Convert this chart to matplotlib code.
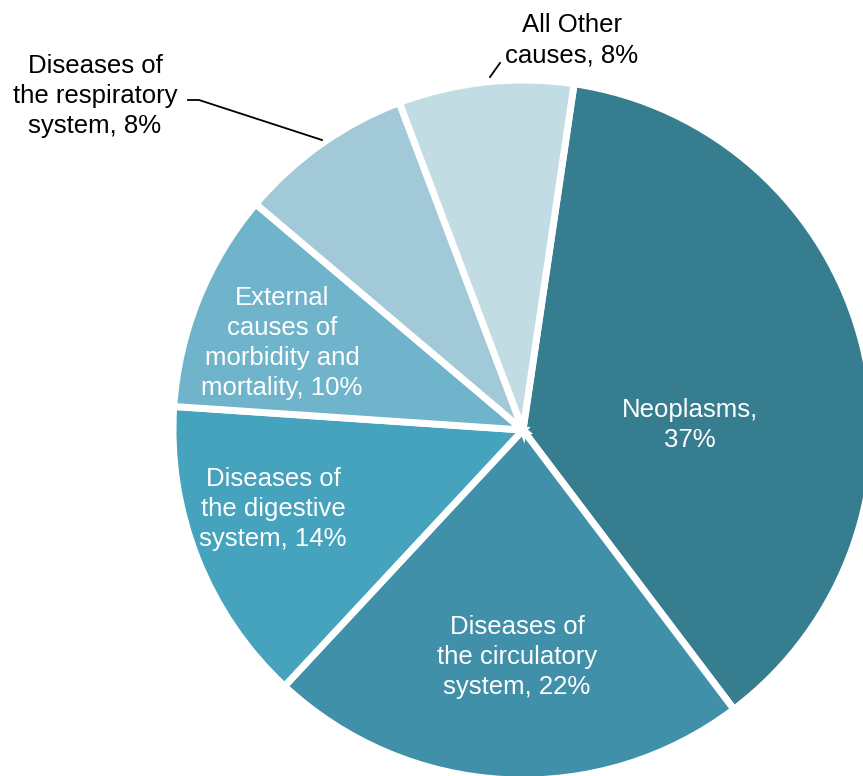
import matplotlib
matplotlib.use("Agg")
import matplotlib.pyplot as plt

plt.rcParams["font.family"] = ["Liberation Sans", "DejaVu Sans"]

causes = ["Neoplasms", "Diseases of the circulatory system",
          "Diseases of the digestive system",
          "External causes of morbidity and mortality",
          "Diseases of the respiratory system", "All Other causes"]
shares = [37, 22, 14, 10, 8, 8]
label_text = ["Neoplasms,\n37%", "Diseases of\nthe circulatory\nsystem, 22%",
              "Diseases of\nthe digestive\nsystem, 14%",
              "External\ncauses of\nmorbidity and\nmortality, 10%",
              "Diseases of\nthe respiratory\nsystem, 8%", "All Other\ncauses, 8%"]
colors = ["#367D8F", "#3F90A8", "#46A3BD", "#6FB4CB", "#A2C9D8", "#C2DCE4"]

W, H = 863, 776
fig = plt.figure(figsize=(W / 100, H / 100), dpi=100)
ax = fig.add_axes([0, 0, 1, 1])
ax.axis("off")

cx, cy, r = 523, 430, 350
wedges, _ = ax.pie(shares, colors=colors, startangle=81.6, counterclock=False,
                   center=(cx, -cy), radius=r,
                   wedgeprops=dict(edgecolor="white", linewidth=5))
# pie draws in y-up space; flip to pixel space (y down)
for w in wedges:
    w.set_center((cx, cy))
    w.theta1, w.theta2 = -w.theta2, -w.theta1
    w._recompute_path()
ax.set_xlim(0, W)
ax.set_ylim(H, 0)
ax.set_aspect("equal")

# label positions (pixel coords)
pos = [(690, 425), (517, 657), (273, 509), (282, 343), (95, 96), (572, 40)]
txt_col = ["white", "white", "white", "white", "black", "black"]
for t, (x, y), c in zip(label_text, pos, txt_col):
    ax.text(x, y, t, ha="center", va="center", color=c, fontsize=18.5,
            linespacing=1.32)

# leader lines
ax.plot([188, 199, 322], [100, 100, 140], color="black", lw=1.3)
ax.plot([490, 500], [77, 63], color="black", lw=1.3)

fig.savefig("out.png", dpi=100)
